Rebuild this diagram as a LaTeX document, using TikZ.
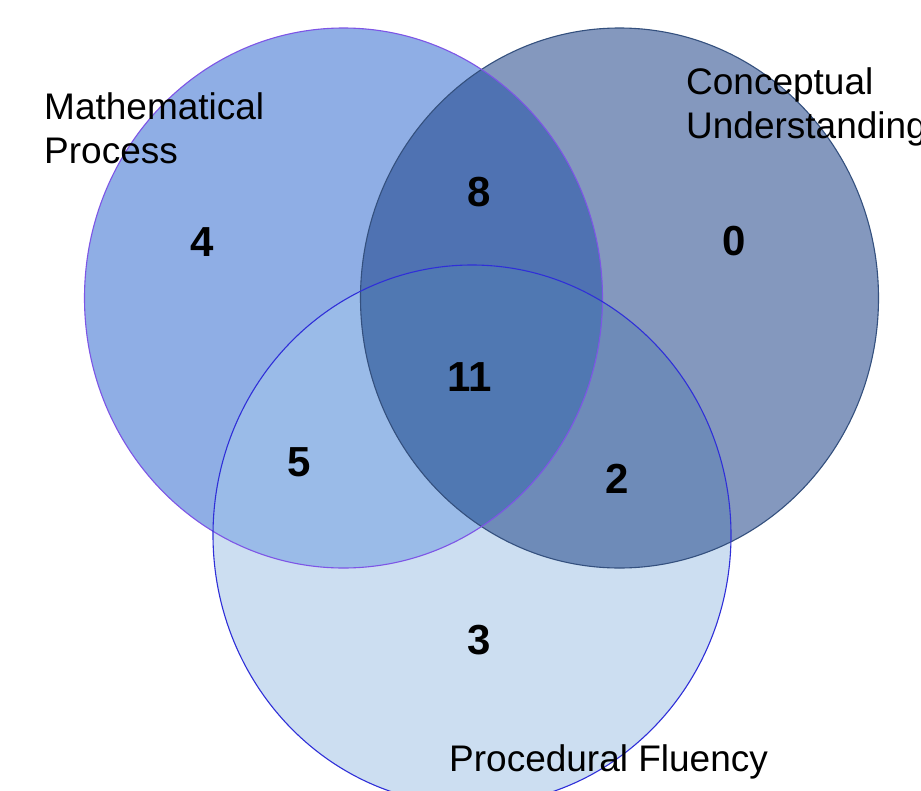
\documentclass[tikz,border=0pt]{standalone}
\usepackage{fontspec}
\setmainfont{Liberation Sans}
\usepackage{tikz}
\usetikzlibrary{calc}

\definecolor{mpFill}{HTML}{8FAEE5}
\definecolor{cuFill}{HTML}{8498BE}
\definecolor{pfFill}{HTML}{CCDEF1}
\definecolor{mpcuFill}{HTML}{4F72B2}
\definecolor{mppfFill}{HTML}{9ABBE8}
\definecolor{cupfFill}{HTML}{6E8BB8}
\definecolor{allFill}{HTML}{5078B2}
\definecolor{mpLine}{HTML}{7D55E6}
\definecolor{cuLine}{HTML}{34507E}
\definecolor{pfLine}{HTML}{2F2FD8}

\begin{document}
\begin{tikzpicture}[x=1pt,y=-1pt]
\tikzset{
	set ellipse/.style = {x radius = 259, y radius = 270},
	count node/.style = {font = \fontsize{42}{42}\selectfont\bfseries, inner sep = 0},
	set label/.style = {font = \fontsize{37}{44}\selectfont, inner sep = 0, align = left},
}
\clip (0,0) rectangle (921,790);
\fill[white] (0,0) rectangle (921,790);

\coordinate (mp) at (343.5,298);
\coordinate (cu) at (619.5,298);
\coordinate (pf) at (472,535);

% the three sets
\fill[mpFill] (mp) ellipse [set ellipse];
\fill[cuFill] (cu) ellipse [set ellipse];
\fill[pfFill] (pf) ellipse [set ellipse];

% overlaps
\begin{scope}
\clip (mp) ellipse [set ellipse];
\fill[mpcuFill] (cu) ellipse [set ellipse];
\fill[mppfFill] (pf) ellipse [set ellipse];
\end{scope}
\begin{scope}
\clip (cu) ellipse [set ellipse];
\fill[cupfFill] (pf) ellipse [set ellipse];
\end{scope}
\begin{scope}
\clip (mp) ellipse [set ellipse];
\clip (cu) ellipse [set ellipse];
\fill[allFill] (pf) ellipse [set ellipse];
\end{scope}

\draw[cuLine, line width = 1.1] (cu) ellipse [set ellipse];
\draw[mpLine, line width = 1.1] (mp) ellipse [set ellipse];
\draw[pfLine, line width = 1.1] (pf) ellipse [set ellipse];

% counts
\foreach \n/\x/\y in {4/202.6/242, 8/478.7/192.4, 0/734/241, 11/470/377, 5/299.6/462.5, 2/616.7/478.6, 3/478.7/640}
	\node[count node] (n\n) at (\x,\y) {\n};

% set names
\node[set label, anchor = north west] (mplabel) at (44,92) {Mathematical\\Process};
\node[set label, anchor = north west] (culabel) at (686,67) {Conceptual\\Understanding};
\node[set label, anchor = base west] (pflabel) at (449,771) {Procedural Fluency};

\end{tikzpicture}
\end{document}
